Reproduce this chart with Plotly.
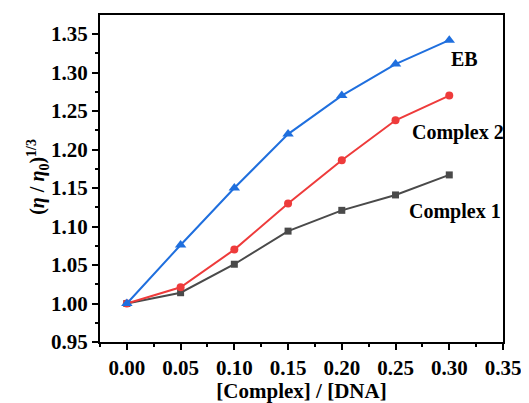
import plotly.graph_objects as go

x = [0.00, 0.05, 0.10, 0.15, 0.20, 0.25, 0.30]
eb = [1.000, 1.076, 1.150, 1.220, 1.270, 1.311, 1.342]
complex2 = [1.000, 1.021, 1.070, 1.130, 1.186, 1.238, 1.270]
complex1 = [1.000, 1.014, 1.051, 1.094, 1.121, 1.141, 1.167]

FONT = "Liberation Serif"

fig = go.Figure()
fig.add_trace(go.Scatter(x=x, y=complex1, mode="lines+markers", name="Complex 1",
                         line=dict(color="#4a4a4a", width=2),
                         marker=dict(symbol="square", size=7, color="#4a4a4a")))
fig.add_trace(go.Scatter(x=x, y=complex2, mode="lines+markers", name="Complex 2",
                         line=dict(color="#ee3b3b", width=2),
                         marker=dict(symbol="circle", size=8, color="#ee3b3b")))
fig.add_trace(go.Scatter(x=x, y=eb, mode="lines+markers", name="EB",
                         line=dict(color="#1f6fde", width=2),
                         marker=dict(symbol="triangle-up", size=10, color="#1f6fde")))

ann_font = dict(family=FONT, size=20, color="black", weight="bold")
fig.add_annotation(x=0.2995, y=1.3175, text="EB", showarrow=False, xanchor="left", yanchor="middle", font=ann_font)
fig.add_annotation(x=0.2635, y=1.2215, text="Complex 2", showarrow=False, xanchor="left", yanchor="middle", font=ann_font)
fig.add_annotation(x=0.2605, y=1.1195, text="Complex 1", showarrow=False, xanchor="left", yanchor="middle", font=ann_font)

# y-axis title as a rotated annotation for exact placement
fig.add_annotation(xref="paper", yref="paper", x=-0.154, y=0.505,
                   text="(<i>η</i> / <i>η</i><sub>0</sub>)<sup>1/3</sup>",
                   textangle=-90, showarrow=False, xanchor="center", yanchor="middle",
                   font=dict(family=FONT, size=20, color="black", weight="bold"))

tick_font = dict(family=FONT, size=21, color="black", weight="bold")

fig.update_layout(
    width=521, height=395,
    margin=dict(l=92, r=26, t=7, b=61),
    paper_bgcolor="white", plot_bgcolor="white",
    showlegend=False,
    font=dict(family=FONT, color="black"),
    xaxis=dict(
        range=[-0.025, 0.35], tickvals=[0, 0.05, 0.1, 0.15, 0.2, 0.25, 0.3, 0.35],
        ticktext=["0.00", "0.05", "0.10", "0.15", "0.20", "0.25", "0.30", "0.35"],
        ticks="outside", ticklen=6, tickwidth=2, tickcolor="black",
        minor=dict(ticks="outside", ticklen=3, tickwidth=2, tickcolor="black", dtick=0.025, tick0=0),
        showline=True, linecolor="black", linewidth=2, mirror=True,
        showgrid=False, zeroline=False, automargin=False,
        tickfont=tick_font,
        title=dict(text="[Complex] / [DNA]", font=dict(family=FONT, size=21, color="black", weight="bold"), standoff=2),
    ),
    yaxis=dict(
        range=[0.95, 1.3747], tickvals=[0.95, 1.0, 1.05, 1.1, 1.15, 1.2, 1.25, 1.3, 1.35],
        ticktext=["0.95", "1.00", "1.05", "1.10", "1.15", "1.20", "1.25", "1.30", "1.35"],
        ticks="outside", ticklen=6, tickwidth=2, tickcolor="black",
        minor=dict(ticks="outside", ticklen=3, tickwidth=2, tickcolor="black", dtick=0.025, tick0=0.95),
        showline=True, linecolor="black", linewidth=2, mirror=True,
        showgrid=False, zeroline=False, automargin=False,
        tickfont=tick_font,
    ),
)

fig.write_html("out.html")
